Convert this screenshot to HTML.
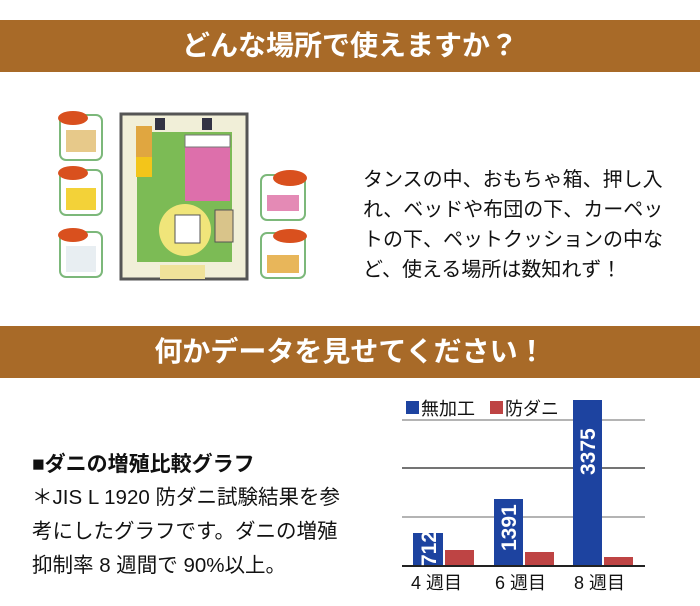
<!DOCTYPE html>
<html><head><meta charset="utf-8"><style>
body{margin:0;width:700px;height:606px;background:#fff;position:relative;overflow:hidden;font-family:"Liberation Sans","Noto Sans CJK JP",sans-serif;}
.ban{position:absolute;left:0;width:700px;height:52px;background:#a86a28;color:#fff;font-weight:bold;font-size:28px;text-align:center;line-height:52px;}
.t{position:absolute;color:#111;}
</style></head><body>
<div class="ban" style="top:20px">どんな場所で使えますか？</div>
<div class="ban" style="top:326px">何かデータを見せてください！</div>

<svg style="position:absolute;left:0;top:0" width="700" height="606">
 <rect x="121" y="114" width="126" height="165" fill="#f1efd8" stroke="#555" stroke-width="3"/>
 <rect x="137" y="132" width="95" height="130" fill="#7cbb55"/>
 <rect x="136" y="126" width="16" height="40" fill="#e0a640"/>
 <rect x="136" y="157" width="16" height="20" fill="#f3c51a"/>
 <rect x="185" y="145" width="45" height="56" fill="#dd6fab"/>
 <rect x="185" y="135" width="45" height="12" fill="#fff" stroke="#777"/>
 <circle cx="185" cy="230" r="26" fill="#f0e57a"/>
 <rect x="175" y="215" width="25" height="28" fill="#fff" stroke="#555"/>
 <rect x="215" y="210" width="18" height="32" fill="#d9c48a" stroke="#555"/>
 <rect x="160" y="265" width="45" height="14" fill="#f0e29a"/>
 <rect x="155" y="118" width="10" height="12" fill="#334"/><rect x="202" y="118" width="10" height="12" fill="#334"/>
 <g fill="#fff" stroke="#7cb87a" stroke-width="2">
  <rect x="60" y="115" width="42" height="45" rx="6"/>
  <rect x="60" y="170" width="42" height="45" rx="6"/>
  <rect x="60" y="232" width="42" height="45" rx="6"/>
  <rect x="261" y="175" width="44" height="45" rx="6"/>
  <rect x="261" y="233" width="44" height="45" rx="6"/>
 </g>
 <rect x="66" y="130" width="30" height="22" fill="#e7c98a"/>
 <rect x="66" y="188" width="30" height="22" fill="#f3d238"/>
 <rect x="66" y="246" width="30" height="26" fill="#e8eef2"/>
 <rect x="267" y="195" width="32" height="16" fill="#e48ab5"/>
 <rect x="267" y="255" width="32" height="18" fill="#e8b65a"/>
 <g fill="#d9501e">
  <ellipse cx="73" cy="118" rx="15" ry="7"/><ellipse cx="73" cy="173" rx="15" ry="7"/><ellipse cx="73" cy="235" rx="15" ry="7"/>
  <ellipse cx="290" cy="178" rx="17" ry="8"/><ellipse cx="290" cy="236" rx="17" ry="7"/>
 </g>
 <g stroke="#888" stroke-width="1.3">
  <line x1="402" y1="420" x2="645" y2="420"/><line x1="402" y1="468" x2="645" y2="468" stroke="#222"/><line x1="402" y1="517" x2="645" y2="517"/>
 </g>
 <rect x="413" y="533" width="30" height="33" fill="#1d43a0"/>
 <rect x="445" y="550" width="29" height="16" fill="#be4444"/>
 <rect x="494" y="499" width="29" height="67" fill="#1d43a0"/>
 <rect x="525" y="552" width="29" height="14" fill="#be4444"/>
 <rect x="573" y="400" width="29" height="166" fill="#1d43a0"/>
 <rect x="604" y="557" width="29" height="9" fill="#be4444"/>
 <line x1="402" y1="566" x2="645" y2="566" stroke="#222" stroke-width="2"/>
 <g fill="#fff" font-size="21" font-weight="bold" font-family="Liberation Sans,sans-serif">
  <text transform="translate(436,566) rotate(-90)">712</text>
  <text transform="translate(516,551) rotate(-90)">1391</text>
  <text transform="translate(595,475) rotate(-90)">3375</text>
 </g>
 <rect x="406" y="401" width="13" height="13" fill="#1d43a0"/>
 <rect x="490" y="401" width="13" height="13" fill="#be4444"/>
 <g fill="#111" font-size="18" font-family="Liberation Sans,Noto Sans CJK JP,sans-serif">
  <text x="421" y="415">無加工</text><text x="505" y="415">防ダニ</text>
  <text x="411" y="589">4 週目</text>
  <text x="495" y="589">6 週目</text>
  <text x="574" y="589">8 週目</text>
 </g>
</svg>

<div class="t" style="left:363px;top:165px;font-size:20px;line-height:30px;width:320px">タンスの中、おもちゃ箱、押し入<br>れ、ベッドや布団の下、カーペッ<br>トの下、ペットクッションの中な<br>ど、使える場所は数知れず！</div>
<div class="t" style="left:32px;top:451px;font-size:21px;font-weight:bold;line-height:28px">■ダニの増殖比較グラフ</div>
<div class="t" style="left:32px;top:481px;font-size:20.5px;line-height:34px;width:360px">＊JIS L 1920 防ダニ試験結果を参<br>考にしたグラフです。ダニの増殖<br>抑制率 8 週間で 90%以上。</div>
</body></html>
